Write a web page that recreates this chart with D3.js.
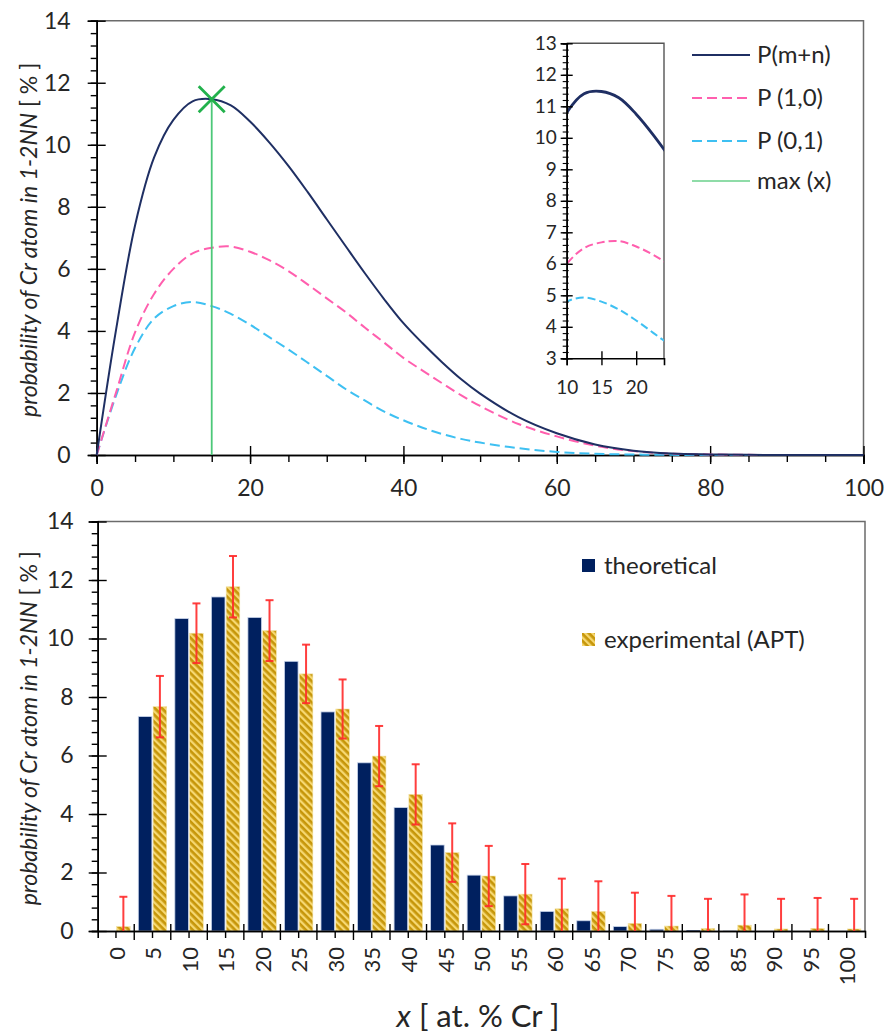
<!DOCTYPE html>
<html><head><meta charset="utf-8">
<script src="https://cdn.jsdelivr.net/npm/d3@7"></script>
<style>body{margin:0;background:#fff}svg{display:block}</style>
</head><body>
<svg id="c" width="887" height="1036"></svg>
<script>
// ---------- DATA ----------
const curveX   = [0,2.5,5,7.5,10,12.5,15,17.5,20,22.5,25,27.5,30,32.5,35,37.5,40,42.5,45,47.5,50,55,60,65,70,75,80,85,90,95,100];
const pMN      = [0,4.0,7.4,9.6,10.8,11.4,11.47,11.27,10.75,10.08,9.32,8.48,7.6,6.72,5.85,5.02,4.25,3.6,3.0,2.45,1.98,1.22,0.7,0.34,0.14,0.05,0.02,0.005,0,0,0];
const p10      = [0,2.0,3.95,5.2,6.0,6.5,6.68,6.72,6.55,6.28,5.93,5.5,5.05,4.6,4.1,3.62,3.13,2.72,2.32,1.93,1.58,1.0,0.6,0.3,0.125,0.045,0.02,0.005,0,0,0];
const p01      = [0,1.9,3.45,4.4,4.8,4.93,4.8,4.55,4.2,3.8,3.4,2.98,2.55,2.12,1.75,1.4,1.12,0.88,0.68,0.52,0.4,0.22,0.1,0.04,0.015,0.005,0,0,0,0,0];
const maxX = 15, maxY = 11.47;

const categories   = ["0","5","10","15","20","25","30","35","40","45","50","55","60","65","70","75","80","85","90","95","100"];
const theoretical  = [0,7.33,10.68,11.42,10.72,9.22,7.49,5.75,4.22,2.94,1.91,1.2,0.67,0.35,0.15,0.06,0.02,0.005,0,0,0];
const experimental = [0.15,7.67,10.18,11.77,10.27,8.79,7.59,5.98,4.67,2.68,1.88,1.26,0.76,0.67,0.26,0.17,0.09,0.2,0.07,0.09,0.07];
const expError     = [1.02,1.05,1.02,1.05,1.04,1.0,1.01,1.03,1.03,1.0,1.03,1.03,1.03,1.03,1.05,1.03,1.01,1.05,1.03,1.04,1.03];

const topXTicks = [0,20,40,60,80,100];
const topYTicks = [0,2,4,6,8,10,12,14];
const insetXTicks = [10,15,20];
const insetYTicks = [3,4,5,6,7,8,9,10,11,12,13];
const legendTop = ["P(m+n)","P (1,0)","P (0,1)","max (x)"];
const legendBottom = ["theoretical","experimental (APT)"];

// ---------- STYLE ----------
const FONT = "Lato, 'Open Sans', sans-serif";
const NAVY = "#1f2f63", PINK = "#ff5fae", CYAN = "#3ec0f2", GREEN = "#22b14c", GREEN_L = "#4cc878";
const BAR_NAVY = "#00205f", TXT = "#262626";

const svg = d3.select("#c");
const defs = svg.append("defs");
const pat = defs.append("pattern").attr("id","hatch").attr("patternUnits","userSpaceOnUse")
  .attr("width",5).attr("height",5).attr("patternTransform","rotate(-45)");
pat.append("rect").attr("width",5).attr("height",5).attr("fill","#c6960a");
pat.append("rect").attr("width",2.3).attr("height",5).attr("fill","#f6d872");

function styleAxis(g, size){
  g.attr("font-family",FONT).attr("font-size",size);
  g.select(".domain").attr("stroke","#000").attr("stroke-width",1.6);
  g.selectAll(".tick line").attr("stroke","#000").attr("stroke-width",1.4);
  g.selectAll(".tick text").attr("fill",TXT);
}

// ================= TOP CHART =================
const xT = d3.scaleLinear([0,100],[96.7,863.5]);
const yT = d3.scaleLinear([0,14],[455,20.7]);
const topG = svg.append("g");

topG.append("path").attr("d",`M${xT(0)},${yT(14)}H${xT(100)}V${yT(0)}`).attr("fill","none").attr("stroke","#6b6b6b").attr("stroke-width",1.5);

const gxm = topG.append("g").attr("transform",`translate(0,${yT(0)})`)
  .call(d3.axisBottom(xT).tickValues(d3.range(0,101,5)).tickSize(7).tickFormat(""));
styleAxis(gxm,20);
const gym = topG.append("g").attr("transform",`translate(${xT(0)},0)`)
  .call(d3.axisLeft(yT).tickValues(d3.range(0,14.01,0.4)).tickSize(6).tickFormat(""));
styleAxis(gym,20);

const gx = topG.append("g").attr("transform",`translate(0,${yT(0)})`)
  .call(d3.axisBottom(xT).tickValues(topXTicks).tickSize(9).tickFormat(d3.format("d")));
styleAxis(gx,23);
gx.selectAll(".tick line").attr("y1",-9);
gx.selectAll(".tick text").attr("y",25);
const gy = topG.append("g").attr("transform",`translate(${xT(0)},0)`)
  .call(d3.axisLeft(yT).tickValues(topYTicks).tickSize(9).tickFormat(d3.format("d")));
styleAxis(gy,23);
gy.selectAll(".tick line").attr("x1",9);
gy.selectAll(".tick text").attr("x",-26);

const ptsMN = curveX.map((x,i)=>[x,pMN[i]]);
const pts10 = curveX.map((x,i)=>[x,p10[i]]);
const pts01 = curveX.map((x,i)=>[x,p01[i]]);
const lineT = d3.line().x(d=>xT(d[0])).y(d=>yT(d[1])).curve(d3.curveCatmullRom.alpha(0.5));
topG.append("path").attr("d",lineT(pts01)).attr("fill","none").attr("stroke",CYAN).attr("stroke-width",2).attr("stroke-dasharray","10,5");
topG.append("path").attr("d",lineT(pts10)).attr("fill","none").attr("stroke",PINK).attr("stroke-width",2).attr("stroke-dasharray","10,5");
topG.append("path").attr("d",lineT(ptsMN)).attr("fill","none").attr("stroke",NAVY).attr("stroke-width",2);

topG.append("line").attr("x1",xT(maxX)).attr("x2",xT(maxX)).attr("y1",yT(0)).attr("y2",yT(maxY))
  .attr("stroke",GREEN_L).attr("stroke-width",1.8);
const mx = xT(maxX), my = yT(maxY), s = 13;
topG.append("path").attr("d",`M${mx-s},${my-s}L${mx+s},${my+s}M${mx-s},${my+s}L${mx+s},${my-s}`)
  .attr("stroke",GREEN).attr("stroke-width",2.8).attr("fill","none");

topG.append("text").attr("transform",`translate(37,${(yT(0)+yT(14))/2+2}) rotate(-90)`)
  .attr("text-anchor","middle").attr("font-family",FONT).attr("font-size",23).attr("fill",TXT)
  .call(t=>{t.append("tspan").attr("font-style","italic").text("probability of Cr atom in 1-2NN");
           t.append("tspan").text(" [ % ]");});

const legY = [55,98,141,181];
const legStyle = [
  {c:NAVY,d:null,w:2},{c:PINK,d:"10,5",w:2},{c:CYAN,d:"10,5",w:2},{c:"#8fdca8",d:null,w:2}];
legendTop.forEach((t,i)=>{
  topG.append("line").attr("x1",692).attr("x2",750).attr("y1",legY[i]).attr("y2",legY[i])
    .attr("stroke",legStyle[i].c).attr("stroke-width",legStyle[i].w).attr("stroke-dasharray",legStyle[i].d);
  topG.append("text").attr("x",757).attr("y",legY[i]).attr("dy","0.35em").attr("font-family",FONT)
    .attr("font-size",24).attr("fill",TXT).text(t);
});

// inset
const xI = d3.scaleLinear([10,24],[566.7,664]);
const yI = d3.scaleLinear([3,13],[358.3,43.3]);
const ins = svg.append("g");
defs.append("clipPath").attr("id","clipI").append("rect")
  .attr("x",xI(10)).attr("y",yI(13)).attr("width",xI(24)-xI(10)).attr("height",yI(3)-yI(13));
ins.append("path").attr("d",`M${xI(10)},${yI(13)}H${xI(24)}V${yI(3)}`).attr("fill","none").attr("stroke","#555").attr("stroke-width",1.4);
const lineI = d3.line().x(d=>xI(d[0])).y(d=>yI(d[1])).curve(d3.curveCatmullRom.alpha(0.5));
const cg = ins.append("g").attr("clip-path","url(#clipI)");
cg.append("path").attr("d",lineI(pts01)).attr("fill","none").attr("stroke",CYAN).attr("stroke-width",2).attr("stroke-dasharray","8,4");
cg.append("path").attr("d",lineI(pts10)).attr("fill","none").attr("stroke",PINK).attr("stroke-width",2).attr("stroke-dasharray","8,4");
cg.append("path").attr("d",lineI(ptsMN)).attr("fill","none").attr("stroke",NAVY).attr("stroke-width",2.8);
const giym = ins.append("g").attr("transform",`translate(${xI(10)},0)`)
  .call(d3.axisLeft(yI).tickValues(d3.range(3,13.01,0.2)).tickSize(4).tickFormat(""));
styleAxis(giym,16);
giym.selectAll(".tick line").attr("x1",2).attr("stroke-width",1.1);
const giy = ins.append("g").attr("transform",`translate(${xI(10)},0)`)
  .call(d3.axisLeft(yI).tickValues(insetYTicks).tickSize(6).tickFormat(d3.format("d")));
styleAxis(giy,19);
giy.selectAll(".tick line").attr("x1",6);
giy.selectAll(".tick text").attr("x",-10);
const gix = ins.append("g").attr("transform",`translate(0,${yI(3)})`)
  .call(d3.axisBottom(xI).tickValues(insetXTicks).tickSize(7).tickFormat(d3.format("d")));
styleAxis(gix,19);
gix.selectAll(".tick line").attr("y1",-7);
gix.selectAll(".tick text").attr("y",22);

// ================= BOTTOM CHART =================
const xB = d3.scaleBand(categories,[97.7,865]).padding(0);
const yB = d3.scaleLinear([0,14],[931,521.5]);
const bot = svg.append("g");
bot.append("path").attr("d",`M${xB.range()[0]},${yB(14)}H${xB.range()[1]}V${yB(0)}`).attr("fill","none").attr("stroke","#6b6b6b").attr("stroke-width",1.5);

const bw = 13.6;
const cx = c => xB(c) + xB.bandwidth()/2;
bot.append("g").selectAll("rect").data(categories).join("rect")
  .attr("x",(c)=>cx(c)-bw-0.6).attr("width",bw)
  .attr("y",(c,i)=>yB(theoretical[i])).attr("height",(c,i)=>yB(0)-yB(theoretical[i]))
  .attr("fill",BAR_NAVY).attr("stroke","#c8d4ea").attr("stroke-width",(c,i)=>theoretical[i]>0.05?0.8:0);
bot.append("g").selectAll("rect").data(categories).join("rect")
  .attr("x",(c)=>cx(c)+0.6).attr("width",bw)
  .attr("y",(c,i)=>yB(experimental[i])).attr("height",(c,i)=>yB(0)-yB(experimental[i]))
  .attr("fill","url(#hatch)").attr("stroke","#f1e2a8").attr("stroke-width",0.6);

const gbxm = bot.append("g").attr("transform",`translate(0,${yB(0)})`)
  .call(d3.axisBottom(xB).tickSize(7).tickFormat(""));
styleAxis(gbxm,19);
gbxm.selectAll(".tick line").attr("y1",0);
const gbx = bot.append("g").attr("transform",`translate(0,${yB(0)})`)
  .call(d3.axisBottom(xB).tickSize(0).tickFormat(d=>d));
styleAxis(gbx,22);
gbx.selectAll(".tick text").attr("transform","rotate(-90)").attr("text-anchor","end")
  .attr("x",-16).attr("y",1).attr("dy","0.35em");
const bounds = categories.map(c=>xB(c)).slice(1);
bot.append("g").selectAll("line").data(bounds).join("line")
  .attr("x1",d=>d).attr("x2",d=>d).attr("y1",yB(0)-7).attr("y2",yB(0)+9)
  .attr("stroke","#000").attr("stroke-width",1.4);

const gbym = bot.append("g").attr("transform",`translate(${xB.range()[0]},0)`)
  .call(d3.axisLeft(yB).tickValues(d3.range(0,14.01,0.4)).tickSize(6).tickFormat(""));
styleAxis(gbym,20);
const gby = bot.append("g").attr("transform",`translate(${xB.range()[0]},0)`)
  .call(d3.axisLeft(yB).tickValues(topYTicks).tickSize(9).tickFormat(d3.format("d")));
styleAxis(gby,23);
gby.selectAll(".tick line").attr("x1",9);
gby.selectAll(".tick text").attr("x",-24);

const eg = bot.append("g").attr("stroke","#ff2a2a").attr("stroke-opacity",0.9).attr("stroke-width",2);
categories.forEach((c,i)=>{
  const ex = cx(c)+7.4;
  const hi = experimental[i]+expError[i];
  const lo = Math.max(0, experimental[i]-expError[i]);
  eg.append("line").attr("x1",ex).attr("x2",ex).attr("y1",yB(hi)).attr("y2",yB(lo));
  eg.append("line").attr("x1",ex-4).attr("x2",ex+4).attr("y1",yB(hi)).attr("y2",yB(hi));
  if (experimental[i]-expError[i] > 0)
    eg.append("line").attr("x1",ex-4).attr("x2",ex+4).attr("y1",yB(lo)).attr("y2",yB(lo));
});

bot.append("text").attr("transform",`translate(37,${(yB(0)+yB(14))/2+2}) rotate(-90)`)
  .attr("text-anchor","middle").attr("font-family",FONT).attr("font-size",23).attr("fill",TXT)
  .call(t=>{t.append("tspan").attr("font-style","italic").text("probability of Cr atom in 1-2NN");
           t.append("tspan").text(" [ % ]");});

svg.append("text").attr("x",478).attr("y",1027).attr("text-anchor","middle")
  .attr("font-family",FONT).attr("font-size",31).attr("fill",TXT)
  .call(t=>{t.append("tspan").attr("font-style","italic").text("x");
           t.append("tspan").text(" [ at. % Cr ]");});

const lbY = [566,640];
bot.append("rect").attr("x",582).attr("y",lbY[0]-7).attr("width",13).attr("height",13).attr("fill",BAR_NAVY);
bot.append("rect").attr("x",582).attr("y",lbY[1]-7).attr("width",13).attr("height",13).attr("fill","url(#hatch)");
legendBottom.forEach((t,i)=>{
  bot.append("text").attr("x",604).attr("y",lbY[i]).attr("dy","0.35em").attr("font-family",FONT)
    .attr("font-size",24).attr("fill",TXT).text(t);
});
</script>
</body></html>
